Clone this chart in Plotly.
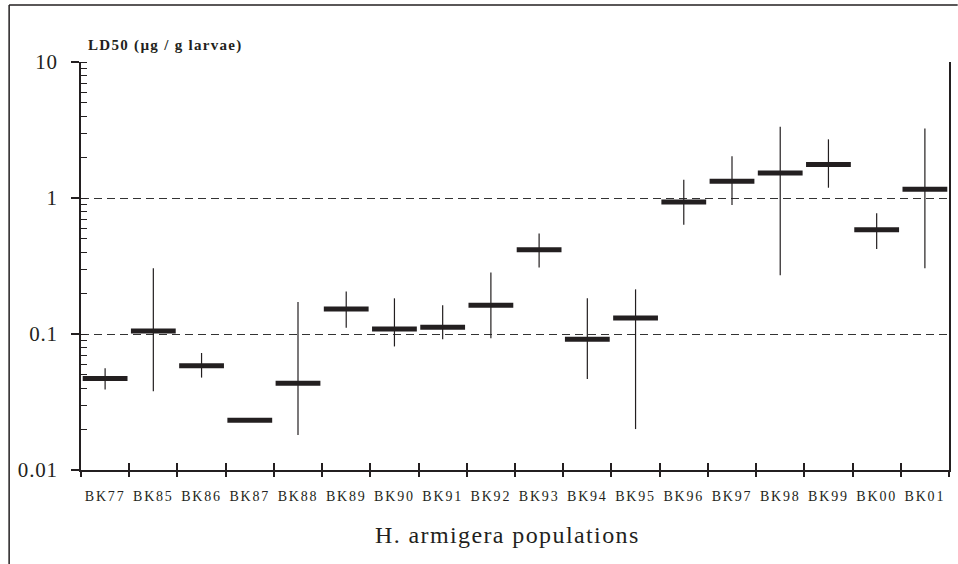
import plotly.graph_objects as go

populations = ["BK77", "BK85", "BK86", "BK87", "BK88", "BK89", "BK90", "BK91", "BK92",
               "BK93", "BK94", "BK95", "BK96", "BK97", "BK98", "BK99", "BK00", "BK01"]
ld50 = [0.047, 0.105, 0.0585, 0.0232, 0.0435, 0.153, 0.109, 0.112, 0.163,
        0.417, 0.0914, 0.131, 0.935, 1.33, 1.53, 1.76, 0.585, 1.16]
ci_upper = [0.056, 0.305, 0.0725, 0.0232, 0.172, 0.205, 0.183, 0.163, 0.283,
            0.549, 0.183, 0.213, 1.36, 2.03, 3.34, 2.70, 0.773, 3.24]
ci_lower = [0.039, 0.038, 0.0478, 0.0232, 0.0181, 0.111, 0.081, 0.0914, 0.093,
            0.308, 0.0467, 0.020, 0.637, 0.889, 0.270, 1.19, 0.422, 0.304]
y_tick_vals = [0.01, 0.1, 1, 10]
y_tick_text = ["0.01", "0.1", "1", "10"]

INK = "#231f20"
SERIF = "Liberation Serif"

plus = [u - v for u, v in zip(ci_upper, ld50)]
minus = [v - l for v, l in zip(ld50, ci_lower)]

fig = go.Figure()
fig.add_trace(go.Scatter(
    x=populations, y=ld50, mode="markers",
    marker=dict(symbol="line-ew", size=32, color=INK, line=dict(color=INK, width=5)),
    error_y=dict(type="data", symmetric=False, array=plus, arrayminus=minus,
                 width=0, thickness=1.2, color=INK),
    hoverinfo="x+y", showlegend=False,
))
# invisible copy on an overlay axis used only for the crossing category ticks
fig.add_trace(go.Scatter(
    x=populations, y=ld50, mode="markers", xaxis="x2",
    marker=dict(opacity=0), hoverinfo="skip", showlegend=False,
))

fig.update_layout(
    width=958, height=564,
    margin=dict(l=81, r=7, t=62, b=94),
    paper_bgcolor="white", plot_bgcolor="white",
    font=dict(family=SERIF, color=INK),
    xaxis=dict(
        type="category", categoryorder="array", categoryarray=populations,
        range=[-0.5, len(populations) - 0.5],
        tickson="boundaries", ticks="outside", ticklen=5, tickwidth=1.5, tickcolor=INK,
        showline=True, linewidth=2, linecolor=INK,
        showgrid=False, zeroline=False,
        tickfont=dict(family=SERIF, size=14, color=INK),
        ticklabelstandoff=12,
    ),
    xaxis2=dict(
        type="category", categoryorder="array", categoryarray=populations,
        overlaying="x", side="bottom", anchor="y",
        range=[-0.5, len(populations) - 0.5],
        tickson="boundaries", ticks="inside", ticklen=7, tickwidth=1.5, tickcolor=INK,
        showticklabels=False, showline=False, showgrid=False, zeroline=False,
    ),
    yaxis=dict(
        type="log", range=[-2, 1],
        tickmode="array", tickvals=y_tick_vals, ticktext=y_tick_text,
        ticks="outside", ticklen=8, tickwidth=1.5, tickcolor=INK,
        tickfont=dict(family=SERIF, size=21, color=INK),
        ticklabelstandoff=9,
        showline=True, linewidth=2, linecolor=INK, mirror=True,
        showgrid=True, gridcolor="#333333", gridwidth=1, griddash="8px,5px",
        zeroline=False,
        minor=dict(ticks="inside", ticklen=6, tickwidth=1, tickcolor=INK,
                   dtick="D1", showgrid=False),
    ),
    annotations=[
        dict(text="<b>LD50 (µg / g larvae)</b>", xref="paper", yref="paper",
             x=0.006, y=1.04, xanchor="left", yanchor="middle", align="left",
             showarrow=False, font=dict(family=SERIF, size=15, color=INK)),
        dict(text="H. armigera populations", xref="paper", yref="paper",
             x=0.4908, y=-0.159, xanchor="center", yanchor="middle", showarrow=False,
             font=dict(family=SERIF, size=24, color=INK)),
    ],
    shapes=[
        dict(type="line", xref="paper", yref="paper", x0=-0.0828, x1=1.01,
             y0=1.1397, y1=1.1397, line=dict(color=INK, width=1.5)),
        dict(type="line", xref="paper", yref="paper", x0=-0.0828, x1=-0.0828,
             y0=1.1397, y1=-0.24, line=dict(color=INK, width=1.5)),
    ],
)

post = """
document.body.style.margin='0';
document.querySelectorAll('.xtick text').forEach(function(t){t.style.letterSpacing='1.8px';});
document.querySelectorAll('.ytick text').forEach(function(t){t.style.letterSpacing='0.8px';});
var ann = document.querySelectorAll('.annotation-text');
if (ann.length > 0) ann[0].style.letterSpacing='1.3px';
if (ann.length > 1) ann[1].style.letterSpacing='1.4px';
"""

fig.write_html("out.html", post_script=post, config={"displayModeBar": False})
